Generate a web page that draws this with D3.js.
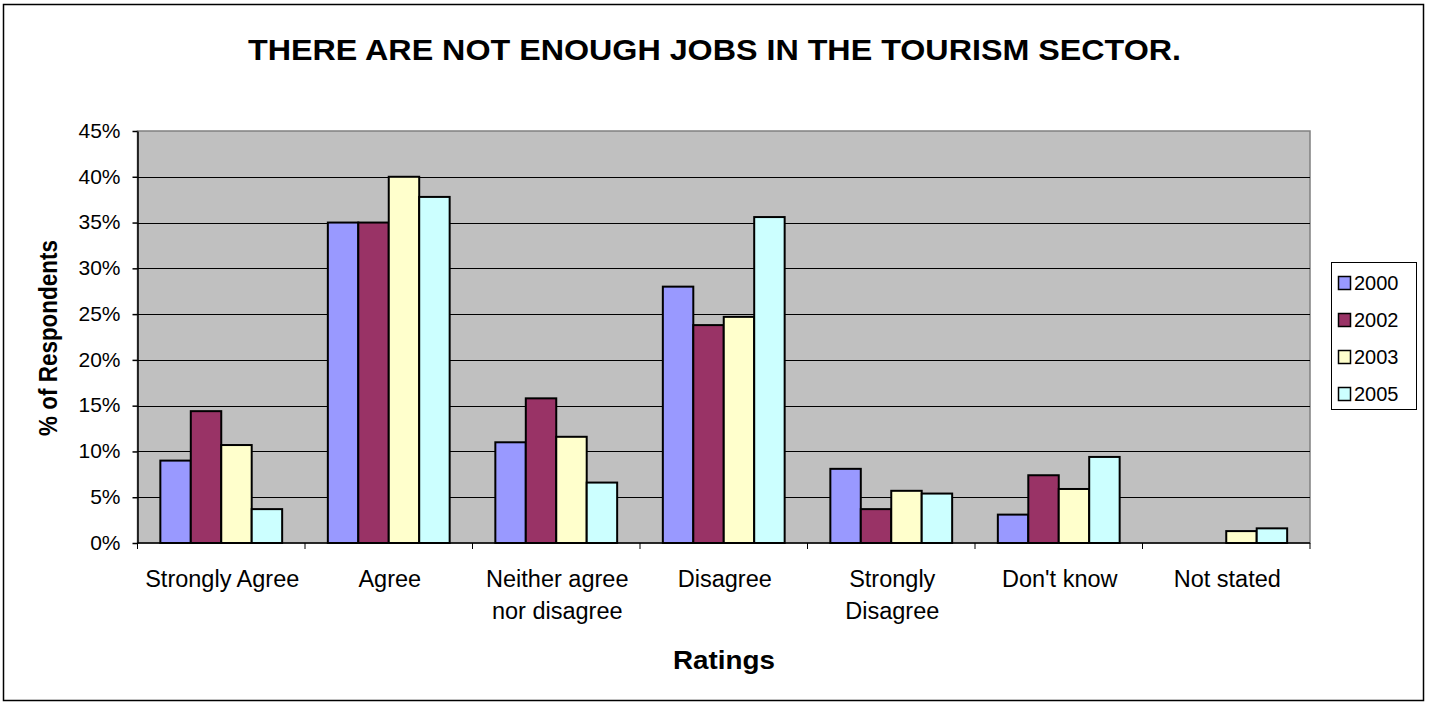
<!DOCTYPE html>
<html>
<head>
<meta charset="utf-8">
<script src="https://cdn.jsdelivr.net/npm/d3@7/dist/d3.min.js"></script>
<style>
  html, body { margin: 0; padding: 0; background: #fff; }
  svg { display: block; font-family: "Liberation Sans", Arial, sans-serif; }
</style>
</head>
<body>
<svg id="chart" width="1429" height="704"></svg>
<script>
// Survey responses: "There are not enough jobs in the tourism sector."
const categories = [
  ["Strongly Agree"],
  ["Agree"],
  ["Neither agree", "nor disagree"],
  ["Disagree"],
  ["Strongly", "Disagree"],
  ["Don't know"],
  ["Not stated"]
];
const years = ["2000", "2002", "2003", "2005"];
const values2000 = [9.0, 35.0, 11.0, 28.0, 8.1, 3.1, 0];
const values2002 = [14.4, 35.0, 15.8, 23.8, 3.7, 7.4, 0];
const values2003 = [10.7, 40.0, 11.6, 24.7, 5.7, 5.9, 1.3];
const values2005 = [3.7, 37.8, 6.6, 35.6, 5.4, 9.4, 1.6];
const yTicks = [0, 5, 10, 15, 20, 25, 30, 35, 40, 45];
const colors = ["#9999FF", "#993366", "#FFFFCC", "#CCFFFF"];

const series = [values2000, values2002, values2003, values2005];

const svg = d3.select("#chart");
const plot = { left: 137.5, right: 1310, top: 131, bottom: 543 };

// outer chart frame
svg.append("rect")
  .attr("x", 3.5).attr("y", 4.5)
  .attr("width", 1420).attr("height", 696)
  .attr("fill", "#fff").attr("stroke", "#000").attr("stroke-width", 1.5);

const x0 = d3.scaleBand()
  .domain(d3.range(categories.length))
  .range([plot.left, plot.right])
  .paddingInner(0).paddingOuter(0);

const x1 = d3.scaleBand()
  .domain(d3.range(years.length))
  .range([0, x0.bandwidth()])
  .paddingInner(0)
  .paddingOuter(0.75);

const y = d3.scaleLinear().domain([0, 45]).range([plot.bottom, plot.top]);

// plot background
svg.append("rect")
  .attr("x", plot.left).attr("y", plot.top)
  .attr("width", plot.right - plot.left).attr("height", plot.bottom - plot.top)
  .attr("fill", "#C0C0C0").attr("stroke", "#808080").attr("stroke-width", 1.5);

// horizontal gridlines
svg.append("g")
  .selectAll("line")
  .data(yTicks.filter(t => t > 0 && t < 45))
  .join("line")
  .attr("x1", plot.left).attr("x2", plot.right)
  .attr("y1", d => Math.round(y(d)) + 0.5).attr("y2", d => Math.round(y(d)) + 0.5)
  .attr("stroke", "#000").attr("stroke-width", 1);

// bars
const groups = svg.append("g").selectAll("g")
  .data(categories.map((c, i) => i))
  .join("g")
  .attr("transform", i => `translate(${x0(i)},0)`);

groups.selectAll("rect")
  .data(i => series.map((s, k) => ({ k, v: s[i] })).filter(d => d.v > 0))
  .join("rect")
  .attr("x", d => x1(d.k))
  .attr("width", x1.bandwidth())
  .attr("y", d => y(d.v))
  .attr("height", d => y(0) - y(d.v))
  .attr("fill", d => colors[d.k])
  .attr("stroke", "#000")
  .attr("stroke-width", 2);

// y axis
const yAxis = svg.append("g")
  .attr("transform", `translate(${plot.left},0)`)
  .call(d3.axisLeft(y).tickValues(yTicks).tickFormat(d => d + "%").tickSize(5).tickSizeOuter(0));
yAxis.select(".domain").attr("stroke", "#000").attr("stroke-width", 1.5);
yAxis.selectAll(".tick line").attr("stroke", "#000").attr("stroke-width", 1.5);
yAxis.selectAll(".tick text")
  .attr("font-size", 21).attr("fill", "#000")
  .attr("font-family", "Liberation Sans, Arial, sans-serif")
  .attr("x", -17).attr("dy", "0.3em");

// x axis baseline and category ticks
svg.append("line")
  .attr("x1", plot.left).attr("x2", plot.right)
  .attr("y1", plot.bottom).attr("y2", plot.bottom)
  .attr("stroke", "#000").attr("stroke-width", 1.5);
svg.append("g").selectAll("line")
  .data(d3.range(categories.length + 1))
  .join("line")
  .attr("x1", i => i < categories.length ? x0(i) : plot.right)
  .attr("x2", i => i < categories.length ? x0(i) : plot.right)
  .attr("y1", plot.bottom).attr("y2", plot.bottom + 6)
  .attr("stroke", "#000").attr("stroke-width", 1);

// category labels
const catLabels = svg.append("g").selectAll("text")
  .data(categories.map((c, i) => ({ c, i })))
  .join("text")
  .attr("text-anchor", "middle")
  .attr("font-size", 23.5)
  .attr("fill", "#000")
  .attr("transform", d => `translate(${x0(d.i) + x0.bandwidth() / 2 + 1},587)`);
catLabels.selectAll("tspan")
  .data(d => d.c)
  .join("tspan")
  .attr("x", 0)
  .attr("dy", (d, j) => j === 0 ? 0 : 32)
  .text(d => d);

// title
svg.append("text")
  .attr("x", 714.5).attr("y", 60)
  .attr("text-anchor", "middle")
  .attr("font-size", 30).attr("font-weight", "bold")
  .attr("textLength", 933).attr("lengthAdjust", "spacingAndGlyphs")
  .text("THERE ARE NOT ENOUGH JOBS IN THE TOURISM SECTOR.");

// axis titles
svg.append("text")
  .attr("x", 724).attr("y", 669)
  .attr("text-anchor", "middle")
  .attr("font-size", 26).attr("font-weight", "bold")
  .attr("textLength", 102).attr("lengthAdjust", "spacingAndGlyphs")
  .text("Ratings");

svg.append("text")
  .attr("transform", "translate(57,338) rotate(-90)")
  .attr("text-anchor", "middle")
  .attr("font-size", 25).attr("font-weight", "bold")
  .attr("textLength", 196).attr("lengthAdjust", "spacingAndGlyphs")
  .text("% of Respondents");

// legend
const legend = svg.append("g");
legend.append("rect")
  .attr("x", 1331.5).attr("y", 262.5)
  .attr("width", 85).attr("height", 147)
  .attr("fill", "#fff").attr("stroke", "#000").attr("stroke-width", 1);
const items = legend.selectAll("g.item")
  .data(years.map((yr, k) => ({ yr, k })))
  .join("g")
  .attr("class", "item")
  .attr("transform", d => `translate(1338,${283 + d.k * 37})`);
items.append("rect")
  .attr("x", 0.5).attr("y", -6.5)
  .attr("width", 12).attr("height", 13)
  .attr("fill", d => colors[d.k])
  .attr("stroke", "#000").attr("stroke-width", 1.5);
items.append("text")
  .attr("x", 16).attr("y", 0).attr("dy", "0.35em")
  .attr("font-size", 20)
  .text(d => d.yr);
</script>
</body>
</html>
